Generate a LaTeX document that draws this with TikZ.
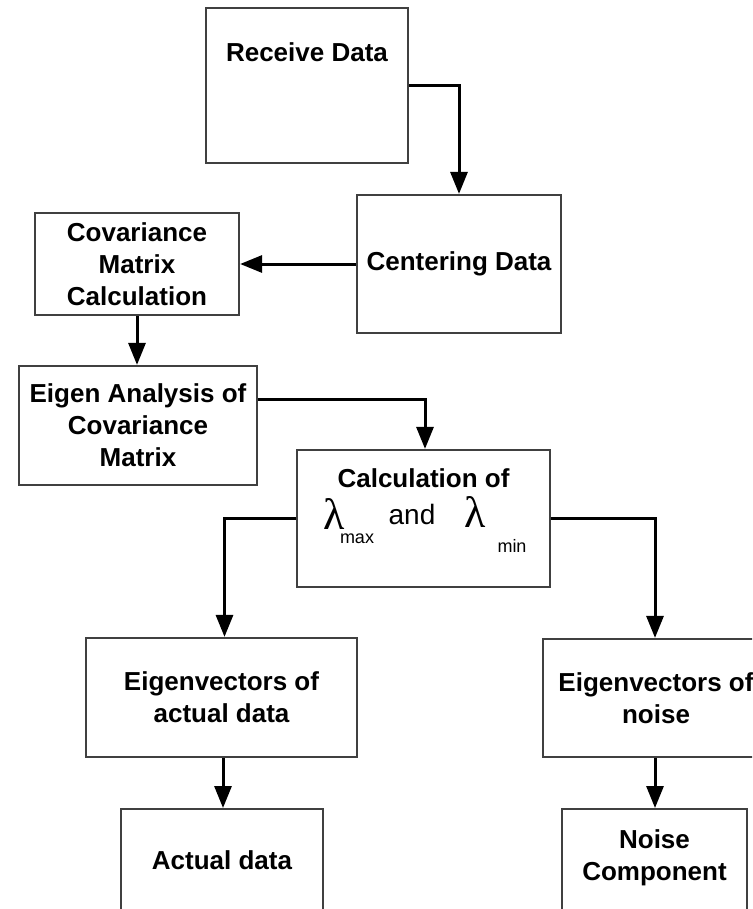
\documentclass[tikz,border=0pt]{standalone}
\usepackage{fontspec}
\setmainfont{Liberation Sans}
\newfontfamily\grkfont{Liberation Serif}
\usetikzlibrary{arrows.meta,calc}
\begin{document}
\begin{tikzpicture}[x=1pt,y=-1pt,
  boxstyle/.style={draw=black!75,line width=2.2pt,fill=white,inner sep=0pt,
     font=\fontsize{26}{32}\selectfont\bfseries,align=center},
  txt/.style={font=\fontsize{26}{32}\selectfont\bfseries,align=center,inner sep=0pt},
  conn/.style={line width=3pt,black,-{Triangle[length=22pt,width=17pt]}}
]
\useasboundingbox (0,0) rectangle (752,909);
\clip (0,0) rectangle (752,909);
\fill[white] (0,0) rectangle (752,909);

\node[boxstyle,minimum width=202pt,minimum height=155pt] (rec) at (307,85.5) {};
\node[txt] (rect) at (307,52) {Receive Data};

\node[boxstyle,minimum width=204pt,minimum height=138pt] (cen) at (459,264) {Centering Data};

\node[boxstyle,minimum width=204pt,minimum height=102pt] (cov) at (137,264) {Covariance\\Matrix\\Calculation};

\node[boxstyle,minimum width=238pt,minimum height=119pt] (eig) at (138,425.5) {Eigen Analysis of\\Covariance\\Matrix};

\node[boxstyle,minimum width=253pt,minimum height=137pt] (calc) at (423.5,518.5) {};
\node[txt] (calct) at (423.5,478) {Calculation of};
\node[inner sep=0pt,font=\fontsize{44}{44}\selectfont\grkfont] (l1) at (334,514) {λ};
\node[inner sep=0pt,font=\fontsize{18}{18}\selectfont] (lmax) at (357,539) {max};
\node[inner sep=0pt,font=\fontsize{28}{28}\selectfont] (land) at (412,514) {and};
\node[inner sep=0pt,font=\fontsize{44}{44}\selectfont\grkfont] (l2) at (475,512) {λ};
\node[inner sep=0pt,font=\fontsize{18}{18}\selectfont] (lmin) at (512,546) {min};

\node[boxstyle,minimum width=271pt,minimum height=119pt] (eva) at (221.5,697.5) {Eigenvectors of\\actual data};

\node[boxstyle,minimum width=226pt,minimum height=118pt] (evn) at (656,698) {Eigenvectors of\\noise};

\node[boxstyle,minimum width=202pt,minimum height=120pt,anchor=north] (act) at (222,808) {};
\node[txt] (actt) at (222,860) {Actual data};

\node[boxstyle,minimum width=185pt,minimum height=120pt,anchor=north] (noc) at (654.5,808) {};
\node[txt] (noct) at (654.5,858) {Noise\\Component};

\draw[conn] (rec.east) -| (cen.north);
\draw[conn] (cen.west) -- (cov.east);
\draw[conn] (cov.south) -- (cov.south |- eig.north);
\draw[conn] ([yshift=26.5pt]eig.east) -| ([xshift=1.5pt]calc.north);
\draw[conn] (calc.west) -| ([xshift=3pt]eva.north);
\draw[conn] (calc.east) -| ([xshift=-1pt]evn.north);
\draw[conn] ([xshift=1.5pt]eva.south) -- ([xshift=1.5pt]eva.south |- act.north);
\draw[conn] ([xshift=-1pt]evn.south) -- ([xshift=-1pt]evn.south |- noc.north);
\end{tikzpicture}
\end{document}
